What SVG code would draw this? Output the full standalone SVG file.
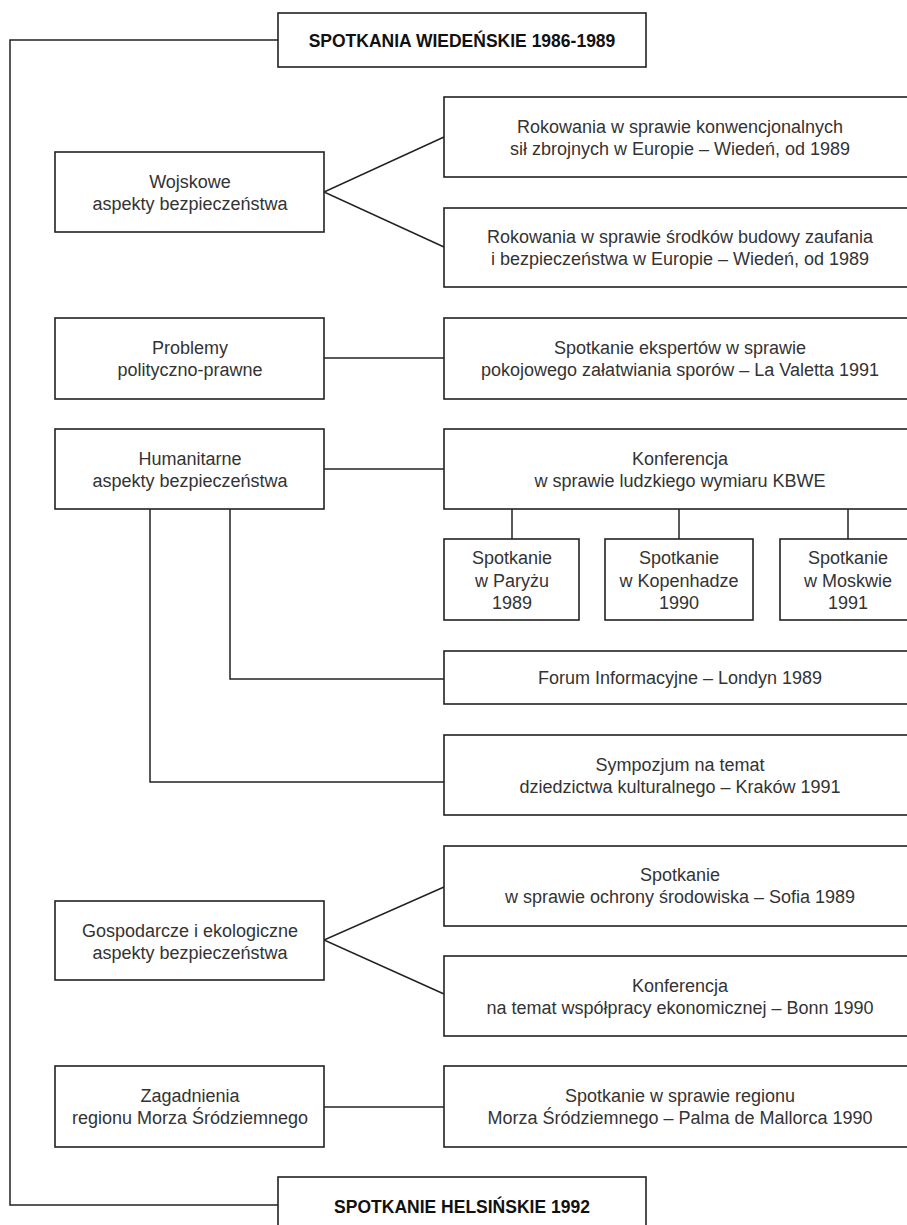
<svg xmlns="http://www.w3.org/2000/svg" width="907" height="1225" viewBox="0 0 907 1225">
<style>
.box{fill:#fff;stroke:#222;stroke-width:1.6}
.c{fill:none;stroke:#222;stroke-width:1.5}
text{font-family:"Liberation Sans",Arial,sans-serif;font-size:18px;fill:#333;text-anchor:middle}
.t{font-weight:bold;font-size:17.5px;fill:#111}
</style>
<rect width="907" height="1225" fill="#fff"/>
<g id="connectors">
<polyline class="c" points="278,40 10,40 10,1205 278,1205"/>
<polyline class="c" points="444,137 324,192 444,247"/>
<line class="c" x1="324" y1="358" x2="444" y2="358"/>
<line class="c" x1="324" y1="469" x2="444" y2="469"/>
<line class="c" x1="512" y1="509" x2="512" y2="539"/>
<line class="c" x1="679" y1="509" x2="679" y2="539"/>
<line class="c" x1="848" y1="509" x2="848" y2="539"/>
<polyline class="c" points="230,509 230,679 444,679"/>
<polyline class="c" points="150,509 150,782 444,782"/>
<polyline class="c" points="444,887 324,940 444,994"/>
<line class="c" x1="324" y1="1107" x2="444" y2="1107"/>
</g>
<g id="n-wieden"><rect class="box" x="278" y="13" width="368" height="54"/><text class="t" x="462" y="47">SPOTKANIA WIEDEŃSKIE 1986-1989</text></g>
<g id="n-wojskowe"><rect class="box" x="55" y="152" width="269" height="80"/><text x="190" y="188">Wojskowe</text><text x="190" y="210">aspekty bezpieczeństwa</text></g>
<g id="n-rok1"><rect class="box" x="444" y="97" width="472" height="80"/><text x="680" y="133">Rokowania w sprawie konwencjonalnych</text><text x="680" y="155">sił zbrojnych w Europie – Wiedeń, od 1989</text></g>
<g id="n-rok2"><rect class="box" x="444" y="208" width="472" height="79"/><text x="680" y="243">Rokowania w sprawie środków budowy zaufania</text><text x="680" y="265">i bezpieczeństwa w Europie – Wiedeń, od 1989</text></g>
<g id="n-problemy"><rect class="box" x="55" y="318" width="269" height="81"/><text x="190" y="354">Problemy</text><text x="190" y="376">polityczno-prawne</text></g>
<g id="n-valetta"><rect class="box" x="444" y="318" width="472" height="81"/><text x="680" y="354">Spotkanie ekspertów w sprawie</text><text x="680" y="376">pokojowego załatwiania sporów – La Valetta 1991</text></g>
<g id="n-humanitarne"><rect class="box" x="55" y="429" width="269" height="80"/><text x="190" y="465">Humanitarne</text><text x="190" y="487">aspekty bezpieczeństwa</text></g>
<g id="n-kbwe"><rect class="box" x="444" y="429" width="472" height="80"/><text x="680" y="465">Konferencja</text><text x="680" y="487">w sprawie ludzkiego wymiaru KBWE</text></g>
<g id="n-paryz"><rect class="box" x="444" y="539" width="135" height="81"/><text x="512" y="564">Spotkanie</text><text x="512" y="587">w Paryżu</text><text x="512" y="609">1989</text></g>
<g id="n-kopenhaga"><rect class="box" x="605" y="539" width="148" height="81"/><text x="679" y="564">Spotkanie</text><text x="679" y="587">w Kopenhadze</text><text x="679" y="609">1990</text></g>
<g id="n-moskwa"><rect class="box" x="780" y="539" width="136" height="81"/><text x="848" y="564">Spotkanie</text><text x="848" y="587">w Moskwie</text><text x="848" y="609">1991</text></g>
<g id="n-londyn"><rect class="box" x="444" y="651" width="472" height="53"/><text x="680" y="684">Forum Informacyjne – Londyn 1989</text></g>
<g id="n-krakow"><rect class="box" x="444" y="735" width="472" height="80"/><text x="680" y="771">Sympozjum na temat</text><text x="680" y="793">dziedzictwa kulturalnego – Kraków 1991</text></g>
<g id="n-gospodarcze"><rect class="box" x="55" y="901" width="269" height="79"/><text x="190" y="937">Gospodarcze i ekologiczne</text><text x="190" y="959">aspekty bezpieczeństwa</text></g>
<g id="n-sofia"><rect class="box" x="444" y="846" width="472" height="80"/><text x="680" y="881">Spotkanie</text><text x="680" y="903">w sprawie ochrony środowiska – Sofia 1989</text></g>
<g id="n-bonn"><rect class="box" x="444" y="956" width="472" height="80"/><text x="680" y="992">Konferencja</text><text x="680" y="1014">na temat współpracy ekonomicznej – Bonn 1990</text></g>
<g id="n-zagadnienia"><rect class="box" x="55" y="1066" width="269" height="81"/><text x="190" y="1102">Zagadnienia</text><text x="190" y="1124">regionu Morza Śródziemnego</text></g>
<g id="n-palma"><rect class="box" x="444" y="1066" width="472" height="81"/><text x="680" y="1102">Spotkanie w sprawie regionu</text><text x="680" y="1124">Morza Śródziemnego – Palma de Mallorca 1990</text></g>
<g id="n-helsinki"><rect class="box" x="278" y="1177" width="368" height="60"/><text class="t" x="462" y="1213">SPOTKANIE HELSIŃSKIE 1992</text></g>
</svg>
